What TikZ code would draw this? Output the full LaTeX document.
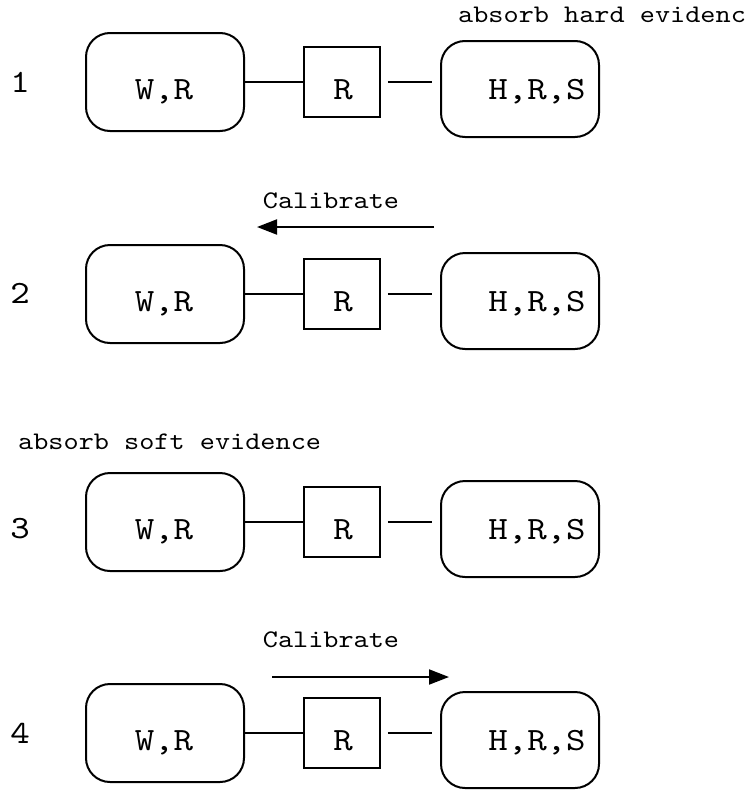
\documentclass[tikz,border=0pt]{standalone}
\usepackage{fontspec}
\setmonofont{lmmono10-regular.otf}[FakeStretch=1.14]
\usetikzlibrary{arrows.meta}
\tikzset{
  clique/.style={draw, line width=2pt, rounded corners=24pt, inner sep=0pt,
                 minimum width=158pt},
  sepset/.style={draw, line width=1.7pt, inner sep=0pt,
                 minimum width=76pt, minimum height=70pt},
  link/.style={line width=1.7pt},
  flow/.style={line width=2pt, -{Triangle[length=20pt,width=15pt]}},
  boxtext/.style={font=\ttfamily\fontsize{32.5}{38}\selectfont, inner sep=0pt, anchor=base},
  note/.style={font=\ttfamily\fontsize{25.3}{30}\selectfont, inner sep=0pt},
}
\begin{document}
\begin{tikzpicture}[x=1pt, y=-1pt]
  \useasboundingbox (0,0) rectangle (747,790);

  % annotations
  \node[note, anchor=base west] (hard) at (458,22) {absorb hard evidenc};
  \node[note, anchor=base west] (soft) at (18,449) {absorb soft evidence};
  \node[note, anchor=base] (cal2) at (331,208) {Calibrate};
  \node[note, anchor=base] (cal4) at (331,647) {Calibrate};

  % step numbers
  \node[boxtext] (n1) at (20,92) {1};
  \node[boxtext] (n2) at (20,303) {2};
  \node[boxtext] (n3) at (20,538) {3};
  \node[boxtext] (n4) at (20,743) {4};

  % the junction tree W,R -- [R] -- H,R,S, repeated for each step
  \foreach \t/\k in {33/1, 245/2, 473/3, 684/4}{
    \node[clique, minimum height=98pt] (wr\k) at (165,\t+49) {};
    \node[sepset] (r\k) at (342,\t+49) {};
    \node[clique, minimum height=96pt] (hrs\k) at (520,\t+56) {};
    \node[boxtext] (wrt\k) at (164,\t+66) {W,R};
    \node[boxtext] (rt\k) at (343,\t+66) {R};
    \node[boxtext] (hrst\k) at (537,\t+66) {H,R,S};
    \draw[link] (wr\k.east) -- (r\k.west);
    \draw[link] ([xshift=7pt]r\k.east) -- ([xshift=-8pt]r\k.east -| hrs\k.west);
  }

  % message passing directions
  \coordinate (a2s) at (434,227);
  \coordinate (a2e) at (257,227);
  \coordinate (a4s) at (272,677);
  \coordinate (a4e) at (449,677);
  \draw[flow] (a2s) -- (a2e);
  \draw[flow] (a4s) -- (a4e);
\end{tikzpicture}
\end{document}
